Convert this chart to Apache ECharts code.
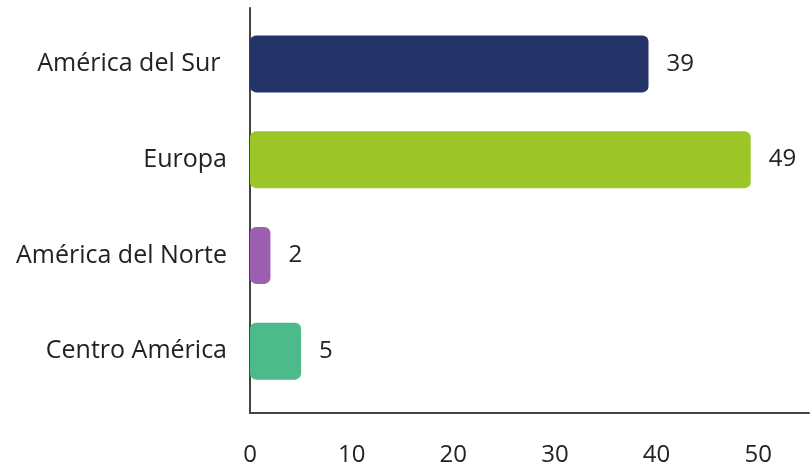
<!DOCTYPE html>
<html>
<head>
<meta charset="utf-8">
<script src="https://cdn.jsdelivr.net/npm/echarts@6/dist/echarts.min.js"></script>
<style>
  html, body { margin: 0; padding: 0; background: #fff; }
  #chart { width: 812px; height: 469px; }
</style>
</head>
<body>
<div id="chart"></div>
<script>
var regions = ['América del Sur ', 'Europa', 'América del Norte', 'Centro América'];
var counts = [39, 49, 2, 5];
var barColors = ['#243468', '#9cc527', '#9c5fb2', '#4cba8b'];
var xTicks = [0, 10, 20, 30, 40, 50];

var font = 'Open Sans';

var option = {
  animation: false,
  grid: [
    { left: 250, right: 0, top: 16, height: 383 },
    { left: 250, right: 0, top: 8, bottom: 56 }
  ],
  xAxis: [
    { gridIndex: 0, type: 'value', min: 0, max: 55, show: false },
    {
      gridIndex: 1, type: 'value', min: 0, max: 55, interval: 10,
      axisLine: { show: true, lineStyle: { color: '#444', width: 2 } },
      axisTick: { show: false },
      splitLine: { show: false },
      axisLabel: {
        margin: 30, fontSize: 24, color: '#222', fontFamily: font,
        formatter: function (v) { return xTicks.indexOf(v) >= 0 ? v : ''; }
      }
    }
  ],
  yAxis: [
    {
      gridIndex: 0, type: 'category', inverse: true, data: regions,
      axisLine: { show: false },
      axisTick: { show: false },
      axisLabel: { margin: 23, fontSize: 25, color: '#222', fontFamily: font }
    },
    {
      gridIndex: 1, type: 'value', min: 0, max: 1,
      axisLine: { show: true, lineStyle: { color: '#444', width: 2 } },
      axisTick: { show: false },
      axisLabel: { show: false },
      splitLine: { show: false }
    }
  ],
  series: [{
    type: 'bar',
    xAxisIndex: 0,
    yAxisIndex: 0,
    barWidth: 57,
    data: counts.map(function (v, i) {
      return { value: v, itemStyle: { color: barColors[i] } };
    }),
    itemStyle: { borderRadius: 6 },
    label: {
      show: true, position: 'right', distance: 18,
      fontSize: 24, color: '#222', fontFamily: font
    }
  }]
};

var chart = echarts.init(document.getElementById('chart'));
chart.setOption(option);
</script>
</body>
</html>
